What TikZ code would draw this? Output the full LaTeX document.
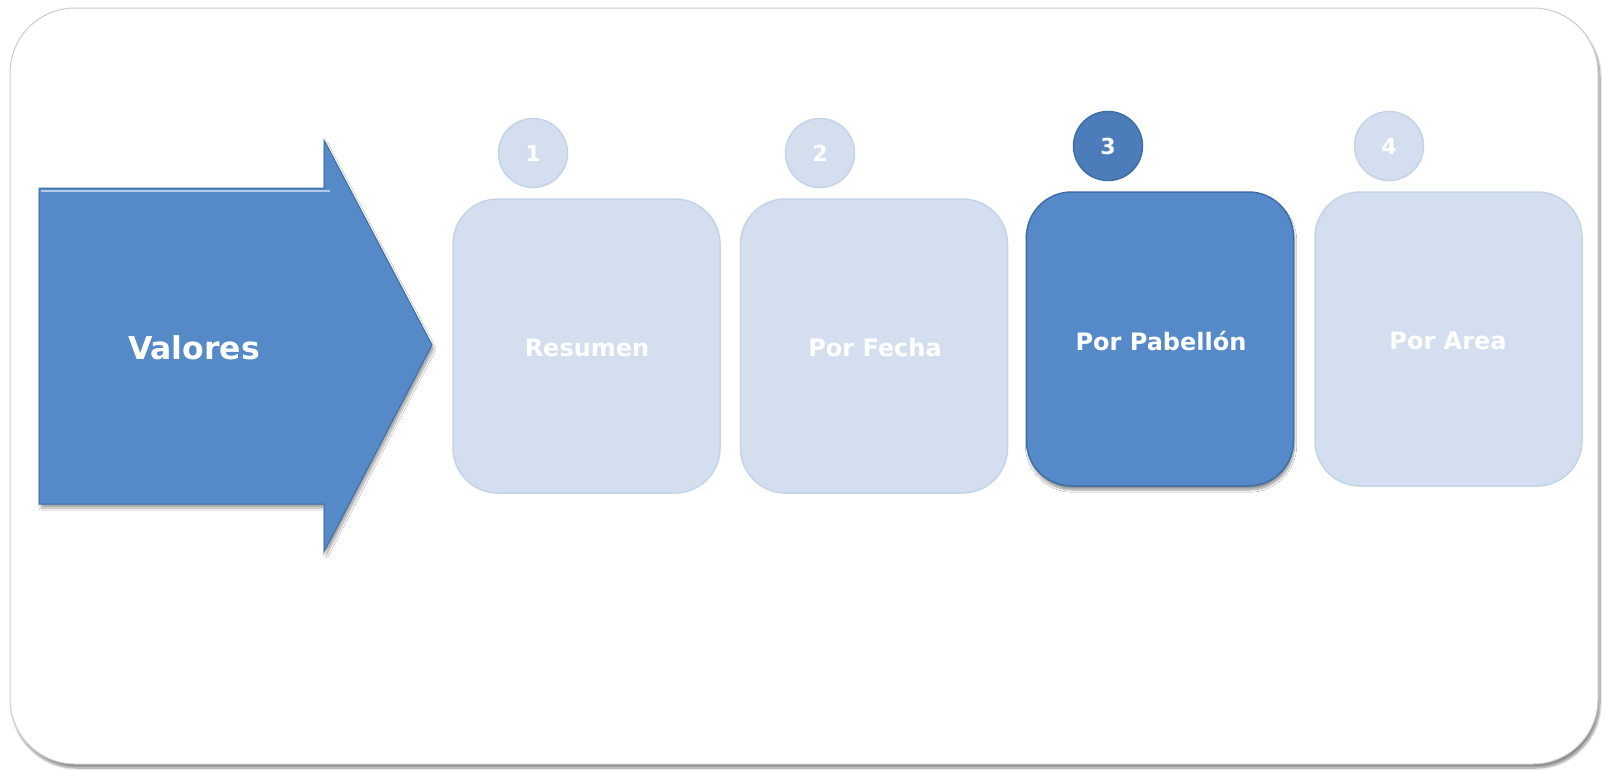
\documentclass[tikz,border=0pt]{standalone}
\usepackage{fontspec}
\setmainfont{DejaVu Sans}
\usetikzlibrary{shadows.blur}
\definecolor{darkb}{HTML}{5589C8}
\definecolor{darkedge}{HTML}{3F6EA6}
\definecolor{lightb}{HTML}{D3DFEE}
\definecolor{lightedge}{HTML}{C4D4E8}
\definecolor{circdark}{HTML}{4C7DBA}
\tikzset{
  stagebox/.style={rounded corners=45pt, minimum width=267pt, minimum height=294pt,
    inner sep=0pt},
  stagetext/.style={font=\bfseries\fontsize{24}{28}\selectfont, text=white},
  lightbox/.style={stagebox, fill=lightb, draw=lightedge, line width=1.5pt},
  darkbox/.style={stagebox, fill=darkb, draw=darkedge, line width=1.5pt,
    blur shadow={shadow xshift=1pt, shadow yshift=-4pt, shadow blur steps=8, shadow opacity=40}},
  numcirc/.style={circle, minimum size=69pt, inner sep=0pt,
    font=\bfseries\fontsize{22}{26}\selectfont, text=white},
  lightcirc/.style={numcirc, fill=lightb, draw=lightedge, line width=1.5pt},
  darkcirc/.style={numcirc, fill=circdark, draw=darkedge, line width=1.5pt},
}
\begin{document}
\begin{tikzpicture}[x=1pt,y=-1pt]
\useasboundingbox (0,0) rectangle (1604,771);
% outer frame
\fill[white, rounded corners=65pt, blur shadow={shadow xshift=2pt, shadow yshift=-4pt, shadow blur steps=12, shadow opacity=45}]
  (10,8) rectangle (1598,764);
\draw[gray!40, line width=1pt, rounded corners=65pt] (10,8) rectangle (1598,764);
% arrow
\fill[darkb, draw=darkedge, line width=1pt,
  blur shadow={shadow xshift=2pt, shadow yshift=-4pt, shadow blur steps=8, shadow opacity=35}]
  (39,188) -- (324,188) -- (324,140) -- (432,345) -- (324,552) -- (324,504) -- (39,504) -- cycle;
\draw[white!55!darkb, line width=2.5pt] (41,191) -- (330,191);
\node[font=\bfseries\fontsize{31.5}{36}\selectfont, text=white] (valores) at (194,348) {Valores};
% boxes
\node[lightbox] (b1) at (586.5,346) {};
\node[stagetext] (t1) at (587,348) {Resumen};
\node[lightbox] (b2) at (874,346) {};
\node[stagetext] (t2) at (875,348) {Por Fecha};
\node[darkbox] (b3) at (1160,339) {};
\node[stagetext] (t3) at (1161,341) {Por Pabellón};
\node[lightbox] (b4) at (1448.5,339) {};
\node[stagetext] (t4) at (1448,341) {Por Area};
% circles
\node[lightcirc] (c1) at (533,153) {1};
\node[lightcirc] (c2) at (820,153) {2};
\node[darkcirc] (c3) at (1108,146) {3};
\node[lightcirc] (c4) at (1389,146) {4};
\end{tikzpicture}
\end{document}
